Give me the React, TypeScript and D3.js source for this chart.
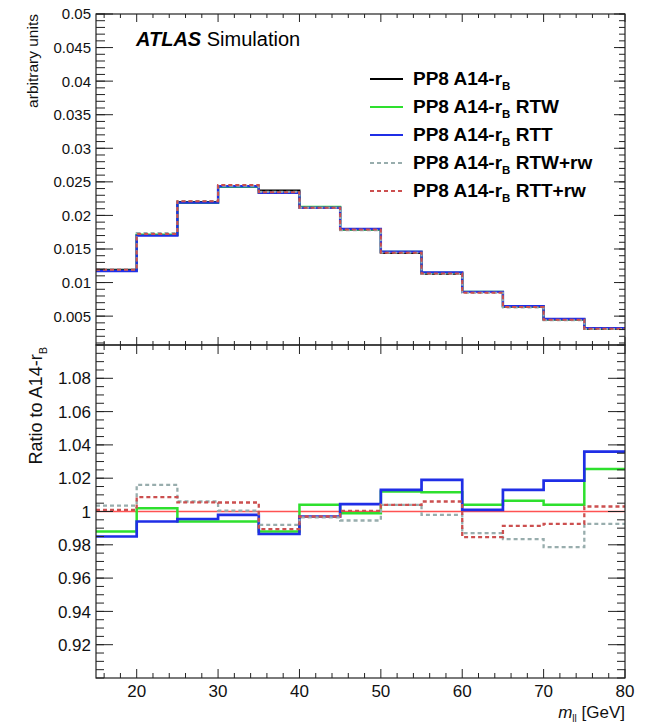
import React from "react";
import * as d3 from "d3";

// Bin edges of the m_ll histogram [GeV]
const BIN_EDGES = [15, 20, 25, 30, 35, 40, 45, 50, 55, 60, 65, 70, 75, 80];

// Normalised nominal distribution (PP8 A14-rB)
const NOMINAL = [0.0119, 0.0171, 0.022, 0.0244, 0.0237, 0.0212, 0.0179, 0.0144, 0.0113, 0.0086, 0.0064, 0.0045, 0.0031];

// Ratios of each variation to the nominal
const RATIO_RTW = [0.988, 1.002, 0.994, 0.994, 0.988, 1.004, 0.999, 1.012, 1.0115, 1.004, 1.0065, 1.004, 1.0255];
const RATIO_RTT = [0.985, 0.994, 0.9955, 0.998, 0.9865, 0.997, 1.0044, 1.013, 1.019, 1.001, 1.013, 1.0185, 1.036];
const RATIO_RTW_RW = [1.0035, 1.016, 1.006, 1.0005, 0.992, 0.9965, 0.9946, 1.004, 0.998, 0.987, 0.9834, 0.9786, 0.9926];
const RATIO_RTT_RW = [1.001, 1.0086, 1.0055, 1.0054, 0.9894, 0.997, 1.0004, 1.004, 1.006, 0.9846, 0.9914, 0.9926, 1.003];

const X_TICK_LABELS = [20, 30, 40, 50, 60, 70, 80];
const TOP_TICK_LABELS = ["0.005", "0.01", "0.015", "0.02", "0.025", "0.03", "0.035", "0.04", "0.045", "0.05"];
const RATIO_TICK_LABELS = ["0.92", "0.94", "0.96", "0.98", "1", "1.02", "1.04", "1.06", "1.08"];

const FONT = "'Liberation Sans', Arial, Helvetica, sans-serif";

const COLORS = {
  nominal: "#000000",
  rtw: "#2ee02e",
  rtt: "#1f2ee6",
  rtwRw: "#98adad",
  rttRw: "#cc4f4f",
  unity: "#ff5252",
};

const W = 645;
const H = 723;
const LEFT = 96;
const RIGHT = 625;
const TOP = 14;
const MID = 345;
const BOTTOM = 678;

const x = d3.scaleLinear().domain([15, 80]).range([LEFT, RIGHT]);
const yTop = d3.scaleLinear().domain([0.0007, 0.05]).range([MID, TOP]);
const yRatio = d3.scaleLinear().domain([0.9, 1.1]).range([BOTTOM, MID]);

function stepPath(values: number[], y: d3.ScaleLinear<number, number>) {
  const pts: [number, number][] = BIN_EDGES.map((e, i) => [e, values[Math.min(i, values.length - 1)]]);
  return d3
    .line<[number, number]>()
    .x((d) => x(d[0]))
    .y((d) => y(d[1]))
    .curve(d3.curveStepAfter)(pts) as string;
}

type Series = { key: string; label: string; color: string; dash?: string; width: number; ratio: number[] | null };

const SERIES: Series[] = [
  { key: "nominal", label: "", color: COLORS.nominal, width: 2, ratio: null },
  { key: "rtw", label: " RTW", color: COLORS.rtw, width: 2.2, ratio: RATIO_RTW },
  { key: "rtt", label: " RTT", color: COLORS.rtt, width: 2.4, ratio: RATIO_RTT },
  { key: "rtwRw", label: " RTW+rw", color: COLORS.rtwRw, dash: "4,3", width: 2, ratio: RATIO_RTW_RW },
  { key: "rttRw", label: " RTT+rw", color: COLORS.rttRw, dash: "4,3", width: 2, ratio: RATIO_RTT_RW },
];

function topValues(s: Series) {
  return s.ratio ? NOMINAL.map((v, i) => v * (s.ratio as number[])[i]) : NOMINAL;
}

export default function App() {
  const xMinor = d3.range(16, 80, 2).filter((v) => v % 10 !== 0);
  const xMajor = X_TICK_LABELS;
  const topMinor = yTop.ticks(50).filter((v) => v > 0.0007);
  const topMajor = TOP_TICK_LABELS.map(Number);
  const ratioMinor = yRatio.ticks(40);
  const ratioMajor = RATIO_TICK_LABELS.map(Number);

  const stroke = "#222";

  return (
    <svg
      width={W}
      height={H}
      viewBox={`0 0 ${W} ${H}`}
      style={{ position: "absolute", left: 0, top: 0, background: "#fff", fontFamily: FONT }}
    >
      <rect x={0} y={0} width={W} height={H} fill="#fff" />

      {/* ---------- upper panel: distributions ---------- */}
      <g>
        {SERIES.map((s) => (
          <path
            key={"top-" + s.key}
            d={stepPath(topValues(s), yTop)}
            fill="none"
            stroke={s.color}
            strokeWidth={s.width}
            strokeDasharray={s.dash}
          />
        ))}
      </g>

      {/* ---------- lower panel: ratios ---------- */}
      <g>
        <line x1={LEFT} x2={RIGHT} y1={yRatio(1)} y2={yRatio(1)} stroke={COLORS.unity} strokeWidth={1.3} />
        {SERIES.filter((s) => s.ratio).map((s) => (
          <path
            key={"ratio-" + s.key}
            d={stepPath(s.ratio as number[], yRatio)}
            fill="none"
            stroke={s.color}
            strokeWidth={s.width + 0.3}
            strokeDasharray={s.dash}
          />
        ))}
      </g>

      {/* ---------- frames ---------- */}
      <rect x={LEFT} y={TOP} width={RIGHT - LEFT} height={MID - TOP} fill="none" stroke={stroke} strokeWidth={1.2} />
      <rect x={LEFT} y={MID} width={RIGHT - LEFT} height={BOTTOM - MID} fill="none" stroke={stroke} strokeWidth={1.2} />

      {/* x ticks on every horizontal frame edge */}
      <g stroke={stroke} strokeWidth={1}>
        {xMajor.map((v) => (
          <g key={"xM" + v}>
            <line x1={x(v)} x2={x(v)} y1={TOP} y2={TOP + 8} />
            <line x1={x(v)} x2={x(v)} y1={MID} y2={MID - 8} />
            <line x1={x(v)} x2={x(v)} y1={MID} y2={MID + 9} />
            <line x1={x(v)} x2={x(v)} y1={BOTTOM} y2={BOTTOM - 9} />
          </g>
        ))}
        {xMinor.map((v) => (
          <g key={"xm" + v}>
            <line x1={x(v)} x2={x(v)} y1={TOP} y2={TOP + 4} />
            <line x1={x(v)} x2={x(v)} y1={MID} y2={MID - 4} />
            <line x1={x(v)} x2={x(v)} y1={MID} y2={MID + 5} />
            <line x1={x(v)} x2={x(v)} y1={BOTTOM} y2={BOTTOM - 5} />
          </g>
        ))}
      </g>

      {/* upper panel y ticks */}
      <g stroke={stroke} strokeWidth={1}>
        {topMajor.map((v) => (
          <g key={"tM" + v}>
            <line x1={LEFT} x2={LEFT + 17} y1={yTop(v)} y2={yTop(v)} />
            <line x1={RIGHT} x2={RIGHT - 11} y1={yTop(v)} y2={yTop(v)} />
          </g>
        ))}
        {topMinor.map((v) => (
          <g key={"tm" + v}>
            <line x1={LEFT} x2={LEFT + 9} y1={yTop(v)} y2={yTop(v)} />
            <line x1={RIGHT} x2={RIGHT - 6} y1={yTop(v)} y2={yTop(v)} />
          </g>
        ))}
      </g>

      {/* lower panel y ticks */}
      <g stroke={stroke} strokeWidth={1}>
        {ratioMajor.map((v) => (
          <g key={"rM" + v}>
            <line x1={LEFT} x2={LEFT + 17} y1={yRatio(v)} y2={yRatio(v)} />
            <line x1={RIGHT} x2={RIGHT - 17} y1={yRatio(v)} y2={yRatio(v)} />
          </g>
        ))}
        {ratioMinor.map((v) => (
          <g key={"rm" + v}>
            <line x1={LEFT} x2={LEFT + 8} y1={yRatio(v)} y2={yRatio(v)} />
            <line x1={RIGHT} x2={RIGHT - 8} y1={yRatio(v)} y2={yRatio(v)} />
          </g>
        ))}
      </g>

      {/* tick labels */}
      <g fill="#111" fontSize={15} textAnchor="end">
        {TOP_TICK_LABELS.map((t) => (
          <text key={"tl" + t} x={91} y={yTop(Number(t))} dy="0.36em">
            {t}
          </text>
        ))}
      </g>
      <g fill="#111" fontSize={17} textAnchor="end">
        {RATIO_TICK_LABELS.map((t) => (
          <text key={"rl" + t} x={91} y={yRatio(Number(t))} dy="0.36em">
            {t}
          </text>
        ))}
      </g>
      <g fill="#111" fontSize={17} textAnchor="middle">
        {X_TICK_LABELS.map((t) => (
          <text key={"xl" + t} x={x(t)} y={697}>
            {t}
          </text>
        ))}
      </g>

      {/* axis titles */}
      <text transform={`translate(38,${TOP}) rotate(-90)`} textAnchor="end" fontSize={15.5} fill="#111">
        arbitrary units
      </text>
      <text transform={`translate(42,347) rotate(-90)`} textAnchor="end" fontSize={18} fill="#111">
        Ratio to A14-r
        <tspan fontSize={11} dy={5}>
          B
        </tspan>
      </text>
      <text x={RIGHT} y={718} textAnchor="end" fontSize={17} fill="#111">
        <tspan fontStyle="italic">m</tspan>
        <tspan fontSize={10} dy={4}>
          ll
        </tspan>
        <tspan dy={-4}> [GeV]</tspan>
      </text>

      {/* experiment label */}
      <text x={136} y={46} fontSize={20} fill="#000">
        <tspan fontWeight="bold" fontStyle="italic">
          ATLAS
        </tspan>
        <tspan> Simulation</tspan>
      </text>

      {/* legend */}
      <g>
        {SERIES.map((s, i) => {
          const yy = 79 + i * 28;
          return (
            <g key={"leg" + s.key}>
              <line x1={370} x2={403} y1={yy} y2={yy} stroke={s.color} strokeWidth={2} strokeDasharray={s.dash} />
              <text x={413} y={yy + 6} fontSize={19} fontWeight="bold" fill="#000">
                PP8 A14-r
                <tspan fontSize={11.5} dy={5}>
                  B
                </tspan>
                <tspan dy={-5}>{s.label}</tspan>
              </text>
            </g>
          );
        })}
      </g>
    </svg>
  );
}
